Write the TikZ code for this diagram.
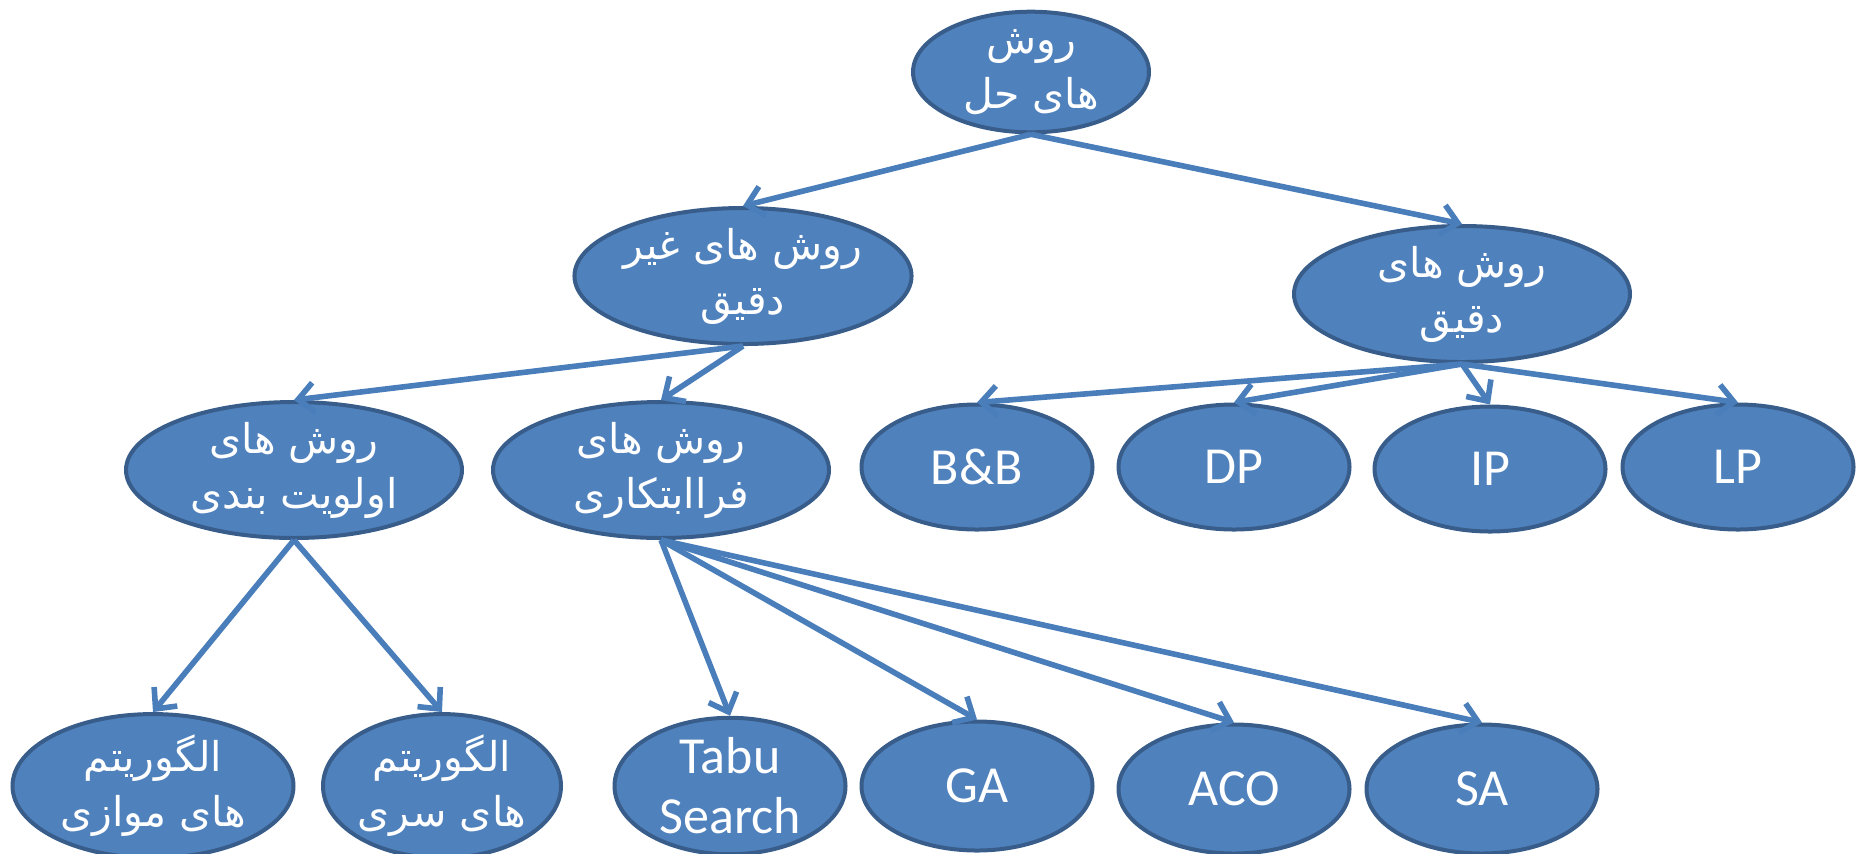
\documentclass[tikz,border=0pt]{standalone}
\usepackage{fontspec}
\setmainfont{Carlito}
\newfontfamily\arabicfont[Script=Arabic]{DejaVu Sans}
\TeXXeTstate=1
\usetikzlibrary{shapes.geometric,arrows.meta}
\definecolor{fillblue}{HTML}{4F81BD}
\definecolor{edgeblue}{HTML}{385D8A}
\definecolor{lineblue}{HTML}{4A7EBB}
\newcommand{\fa}[1]{\beginR #1\endR}
\begin{document}
\begin{tikzpicture}[x=0.5pt,y=-0.5pt,
  ell/.style={ellipse, draw=edgeblue, fill=fillblue, line width=2pt, text=white, align=center, inner sep=0pt},
  fatext/.style={font=\arabicfont\fontsize{20.5}{27.5}\selectfont},
  latext/.style={font=\fontsize{26}{30}\selectfont},
  rootbox/.style={ell, fatext, minimum width=118pt, minimum height=56.5pt},
  bigbox/.style={ell, fatext, minimum width=168pt, minimum height=61.5pt},
  algbox/.style={ell, fatext, minimum height=64.5pt},
  smallbox/.style={ell, latext, minimum width=115.5pt, minimum height=62.5pt},
  conn/.style={draw=lineblue, line width=2.8pt, -{Straight Barb[length=8pt,width=15pt]}}
]
\useasboundingbox (0,0) rectangle (1862,853);

\node[rootbox] (root) at (1031,72) {\fa{روش}\\\fa{های حل}};
\node[bigbox] (inexact) at (743,276) {\fa{روش های غیر}\\\fa{دقیق}};
\node[bigbox] (exact) at (1462,294) {\fa{روش های}\\\fa{دقیق}};
\node[bigbox] (prio) at (294,470) {\fa{روش های}\\\fa{اولویت بندی}};
\node[bigbox] (meta) at (661,470) {\fa{روش های}\\\fa{فراابتکاری}};

\node[smallbox] (bb) at (977,467) {B\&B};
\node[smallbox] (dp) at (1234,467) {DP};
\node[smallbox] (ip) at (1490,469) {IP};
\node[smallbox] (lp) at (1738,467) {LP};

\node[algbox, minimum width=140.5pt] (par) at (153,786) {\fa{الگوریتم}\\\fa{های موازی}};
\node[algbox, minimum width=117pt] (ser) at (442,786) {\fa{الگوریتم}\\\fa{های سری}};

\node[smallbox, minimum height=64.5pt] (tabu) at (730,786) {Tabu\\Search};
\node[smallbox, minimum height=64.5pt] (ga) at (977,786) {GA};
\node[smallbox, minimum height=64.5pt] (aco) at (1234,789) {ACO};
\node[smallbox, minimum height=64.5pt] (sa) at (1482,789) {SA};

\draw[conn] (root.south) -- (inexact.north);
\draw[conn] (root.south) -- (exact.north);
\draw[conn] (inexact.south) -- (prio.north);
\draw[conn] (inexact.south) -- (meta.north);
\draw[conn] (exact.south) -- (bb.north);
\draw[conn] (exact.south) -- (dp.north);
\draw[conn] (exact.south) -- (ip.north);
\draw[conn] (exact.south) -- (lp.north);
\draw[conn] (prio.south) -- (par.north);
\draw[conn] (prio.south) -- (ser.north);
\draw[conn] (meta.south) -- (tabu.north);
\draw[conn] (meta.south) -- (ga.north);
\draw[conn] (meta.south) -- (aco.north);
\draw[conn] (meta.south) -- (sa.north);
\end{tikzpicture}
\end{document}
